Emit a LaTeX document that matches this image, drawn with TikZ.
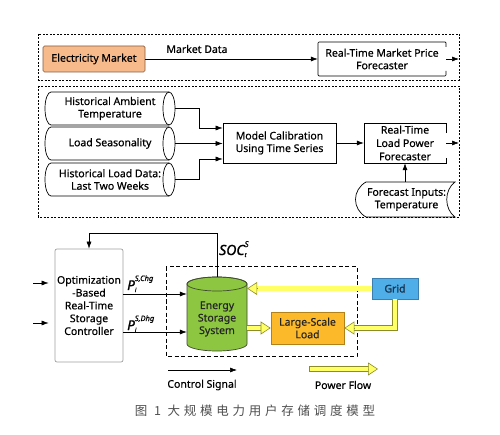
\documentclass[tikz,border=0pt]{standalone}
\usepackage{fontspec}
\setmainfont{Noto Sans}
\newfontfamily\medfont{Noto Sans}[FakeBold=0.45]
\newfontfamily\hvy{Noto Sans}[FakeBold=1.4]
\newfontfamily\cjk{Noto Sans CJK SC}
\usetikzlibrary{arrows.meta}
\definecolor{emfill}{HTML}{F7BA8B}
\definecolor{embrd}{HTML}{8A5A3A}
\definecolor{essfill}{HTML}{8DC640}
\definecolor{essbrd}{HTML}{3F4A30}
\definecolor{gridfill}{HTML}{4FAEE8}
\definecolor{gridbrd}{HTML}{3A7FB0}
\definecolor{gridtxt}{HTML}{1A3550}
\definecolor{loadfill}{HTML}{FCB92A}
\definecolor{loadbrd}{HTML}{B3811A}
\definecolor{pwrfill}{HTML}{FFFF66}
\definecolor{pwrbrd}{HTML}{8C8C2A}
\definecolor{ctrlbrd}{HTML}{A0A0A0}
\definecolor{capgray}{HTML}{505050}
\begin{document}
\begin{tikzpicture}[x=1pt,y=-1pt,
  txt/.style={font=\medfont\fontsize{10.5}{12.5}\selectfont, align=center, inner sep=0pt},
  sig/.style={-{Latex[length=7pt,width=5pt]}, line width=0.6pt},
  dbox/.style={draw, dash pattern=on 2pt off 1.5pt, line width=0.6pt},
  pwr/.style={draw=pwrbrd, line width=0.6pt, double=pwrfill, double distance=4.4pt, shorten >=7pt},
  pwrtip/.style={draw=pwrbrd, line width=0.6pt, -{Triangle[length=10pt,width=13pt,fill=pwrfill]}},
]
\fill[white] (0,0) rectangle (500,435);
\useasboundingbox (0,0) rectangle (500,435);

% ---------- top dashed block
\draw[dbox] (38,34) rectangle (459,80);
\node[txt, draw=embrd, fill=emfill, rounded corners=1.5pt, minimum width=102pt, minimum height=26pt, line width=0.7pt] (em) at (94,59) {Electricity Market};
\node[txt, minimum width=128pt, minimum height=34pt] (rtmpf) at (382,59) {Real-Time Market Price\\Forecaster};
\draw[line width=0.7pt, rounded corners=1pt] (446,47) -- (446,42) -- (318,42) -- (318,76) -- (446,76) -- (446,71);
\node[txt] (md) at (197,49) {Market Data};
\draw[sig] (em) -- (rtmpf);
\coordinate (o1) at (459,59);
\draw[sig] (rtmpf.east) -- (o1);

% ---------- middle dashed block
\draw[dbox] (38,86) rectangle (459,217);
\foreach \yt/\yb in {92/125, 127/160, 163/196}{
  \pgfmathsetmacro{\ym}{(\yt+\yb)/2}
  \pgfmathsetmacro{\rr}{(\yb-\yt)/2}
  \draw[line width=0.7pt, fill=white] (169,\yt) -- (51,\yt) arc[start angle=270, end angle=90, x radius=6, y radius=\rr] -- (169,\yb);
  \draw[line width=0.7pt] (169,\ym) ellipse[x radius=6, y radius=\rr];
}
\node[txt, minimum width=130pt, minimum height=33pt] (h1) at (110,108.5) {Historical Ambient\\Temperature};
\node[txt, minimum width=130pt, minimum height=33pt] (h2) at (110,143.5) {Load Seasonality};
\node[txt, minimum width=130pt, minimum height=33pt] (h3) at (110,179.5) {Historical Load Data:\\Last Two Weeks};
\node[txt, draw, minimum width=113pt, minimum height=40pt, line width=0.7pt] (mc) at (279.5,143) {Model Calibration\\Using Time Series};
\draw[sig] (h1.east) -- ++(24,0) |- ([yshift=15pt]mc.west);
\draw[sig] (h2.east) -- (h2.east -| mc.west);
\draw[sig] (h3.east) -- ++(24,0) |- ([yshift=-16pt]mc.west);
\node[txt, font=\medfont\fontsize{10.5}{13.3}\selectfont, minimum width=82pt, minimum height=40pt] (rtl) at (405,143) {Real-Time\\Load Power\\Forecaster};
\draw[line width=0.7pt] (446,133) -- (446,123) -- (364,123) -- (364,163) -- (446,163) -- (446,158);
\draw[sig] (mc) -- (rtl);
\coordinate (o2) at (459,143);
\draw[sig] (rtl.east) -- (o2);
\draw[line width=0.7pt] (366,182) -- (455,182) .. controls (444,190) and (444,209) .. (455,217) -- (366,217) .. controls (352,209) and (352,190) .. (366,182) -- cycle;
\node[txt, minimum width=98pt, minimum height=35pt] (fi) at (405,199.5) {};
\node[txt] (fit) at (406.5,199.5) {Forecast Inputs:\\Temperature};
\draw[sig] (fi) -- (rtl);

% ---------- bottom block
\node[txt, draw=ctrlbrd, rounded corners=2pt, minimum width=68pt, minimum height=113pt, line width=0.7pt, font=\medfont\fontsize{10.5}{12.8}\selectfont] (ctl) at (89,305.5) {Optimization\\-Based\\Real-Time\\Storage\\Controller};
\coordinate (i1) at (33,283);
\coordinate (i2) at (33,323);
\draw[sig, shorten >=6pt] (i1) -- (i1 -| ctl.west);
\draw[sig, shorten >=6pt] (i2) -- (i2 -| ctl.west);

\draw[dash pattern=on 4pt off 2.5pt, line width=1pt] (166,267) rectangle (357,356);

% ESS cylinder
\draw[essbrd, line width=0.7pt, fill=essfill] (187,284) -- (187,344) arc[start angle=180, end angle=0, x radius=30, y radius=7] -- (247,284) arc[start angle=0, end angle=-180, x radius=30, y radius=7] -- cycle;
\draw[essbrd, line width=0.7pt] (217,284) ellipse[x radius=30, y radius=7];
\node[txt, minimum width=60pt, minimum height=74pt] (ess) at (217,314) {};
\node[txt, text=black!85] (esst) at (217,319) {Energy\\Storage\\System};

\draw[sig] (ctl.east |- 0,294) -- (ess.west |- 0,294);
\draw[sig] (ctl.east |- 0,332) -- (ess.west |- 0,332);
\node[anchor=base west, inner sep=0pt] (pchg) at (127,290) {\hvy\fontsize{13.5}{13.5}\selectfont\itshape P\rlap{\raisebox{-2pt}{\fontsize{6}{6}\selectfont i}}\raisebox{9pt}{\medfont\fontsize{7.5}{7.5}\selectfont\itshape S,Chg}};
\node[anchor=base west, inner sep=0pt] (pdhg) at (127,330) {\hvy\fontsize{13.5}{13.5}\selectfont\itshape P\rlap{\raisebox{-2pt}{\fontsize{6}{6}\selectfont i}}\raisebox{9pt}{\medfont\fontsize{7.5}{7.5}\selectfont\itshape S,Dhg}};
\node[anchor=base west, inner sep=0pt] (soc) at (219,255) {\hvy\fontsize{14}{14}\selectfont\itshape SOC\rlap{\raisebox{-2pt}{\fontsize{6}{6}\selectfont t}}\raisebox{8pt}{\medfont\fontsize{8}{8}\selectfont\itshape S}};
\draw[sig] (ess.north) -- (217,233) -| (ctl.north);

\node[txt, draw=gridbrd, fill=gridfill, minimum width=46pt, minimum height=21pt, line width=0.7pt, text=gridtxt, font=\hvy\fontsize{10.5}{12}\selectfont] (grid) at (395,288.5) {Grid};
\node[txt, draw=loadbrd, fill=loadfill, minimum width=73pt, minimum height=32pt, line width=0.7pt, text=black!85] (load) at (307.5,328) {Large-Scale\\Load};

\coordinate (essR) at (ess.east |- grid.west);
\draw[pwr] (grid.west) -- (essR);
\draw[pwrtip] ([xshift=10pt]essR) -- (essR);
\draw[pwr] (grid.south) |- (load.east);
\draw[pwrtip] ([xshift=10pt]load.east) -- (load.east);
\coordinate (essL) at (ess.east |- load.west);
\draw[pwr] (essL) -- (load.west);
\draw[pwrtip] ([xshift=-10pt]load.west) -- (load.west);

% ---------- legend
\coordinate (cs1) at (168,370);
\coordinate (cs2) at (237,370);
\draw[sig] (cs1) -- (cs2);
\node[txt] (cst) at (202,385) {Control Signal};
\coordinate (pf1) at (309,369);
\coordinate (pf2) at (378,369);
\draw[pwr] (pf1) -- (pf2);
\draw[pwrtip] ([xshift=-10pt]pf2) -- (pf2);
\draw[pwrbrd, line width=0.6pt] ([yshift=2.8pt]pf1) -- ([yshift=-2.8pt]pf1);
\node[txt] (pft) at (343,385) {Power Flow};

% ---------- caption
\node[inner sep=0pt, text=capgray, font=\cjk\fontsize{12.5}{12.5}\selectfont\addfontfeature{LetterSpace=30}] (cap) at (255,411) {图 1 大规模电力用户存储调度模型};
\end{tikzpicture}
\end{document}
